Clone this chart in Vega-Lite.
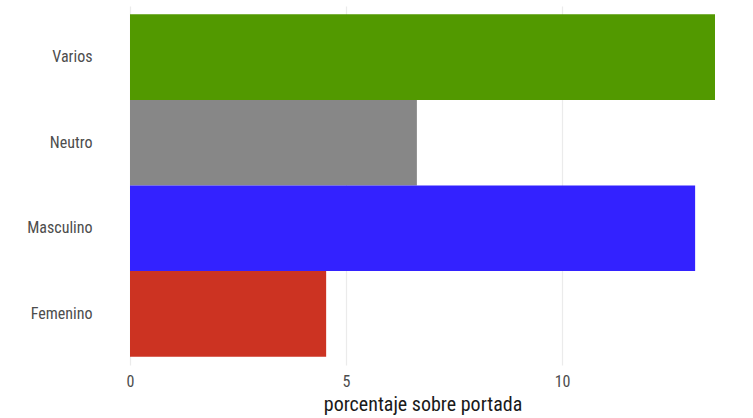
{
  "$schema": "https://vega.github.io/schema/vega-lite/v6.json",
  "autosize": "none",
  "width": 585,
  "height": 359,
  "padding": {"left": 130, "top": 6, "right": 38, "bottom": 53},
  "background": "white",
  "data": {"values": [
    {"genero": "Varios", "porcentaje": 13.54},
    {"genero": "Neutro", "porcentaje": 6.64},
    {"genero": "Masculino", "porcentaje": 13.08},
    {"genero": "Femenino", "porcentaje": 4.54}
  ]},
  "config": {
    "view": {"stroke": null},
    "font": "Roboto Condensed, DejaVu Sans Condensed, Roboto"
  },
  "mark": {"type": "bar"},
  "encoding": {
    "y": {
      "field": "genero", "type": "nominal",
      "sort": ["Varios", "Neutro", "Masculino", "Femenino"],
      "scale": {"paddingInner": 0, "paddingOuter": 0.097},
      "axis": {"title": null, "domain": false, "ticks": false, "grid": false,
               "labelPadding": 38, "labelFontSize": 16, "labelColor": "#4d4d4d",
               "labelFont": "Roboto Condensed, DejaVu Sans Condensed, Roboto"}
    },
    "x": {
      "field": "porcentaje", "type": "quantitative",
      "scale": {"domain": [0, 13.54], "nice": false, "zero": true},
      "axis": {"title": "porcentaje sobre portada", "values": [0, 5, 10],
               "domain": false, "ticks": false, "grid": true, "gridColor": "#ebebeb",
               "gridWidth": 1.2, "labelFlush": false,
               "labelPadding": 8, "labelFontSize": 16, "labelColor": "#4d4d4d",
               "titleFontSize": 20, "titleFontWeight": "normal", "titleColor": "#1a1a1a",
               "titlePadding": 5,
               "labelFont": "Roboto Condensed, DejaVu Sans Condensed, Roboto",
               "titleFont": "Roboto Condensed, DejaVu Sans Condensed, Roboto"}
    },
    "color": {
      "field": "genero", "type": "nominal", "legend": null,
      "scale": {"domain": ["Varios", "Neutro", "Masculino", "Femenino"],
                "range": ["#529900", "#878787", "#3322ff", "#cc3322"]}
    }
  }
}
